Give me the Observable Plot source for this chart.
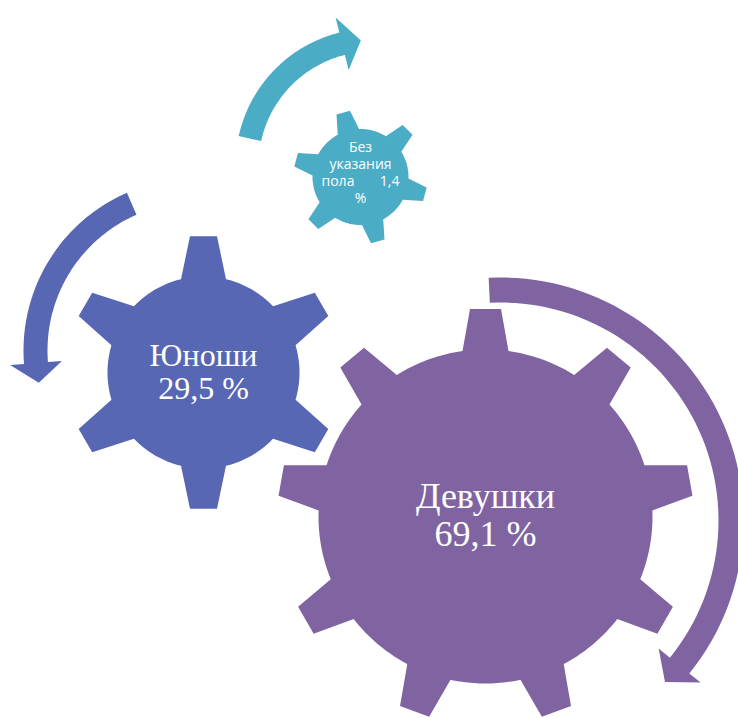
<!DOCTYPE html>
<html>
<head>
<meta charset="utf-8">
<script src="https://cdn.jsdelivr.net/npm/d3@7"></script>
<script src="https://cdn.jsdelivr.net/npm/@observablehq/plot@0.6"></script>
<style>
  html, body { margin: 0; padding: 0; background: #ffffff; }
  #chart svg { display: block; }
</style>
</head>
<body>
<div id="chart"></div>
<script>
// ---- data ----
const categories = ["Девушки", "Юноши", "Без указания пола"];
const shares = [69.1, 29.5, 1.4];
const colors = ["#8064a2", "#5867b3", "#4bacc6"];

// ---- layout (diagram geometry, not data) ----
const gearLayout = [
  {cx: 485, cy: 516, R: 208, r: 167, teeth: 9, rot: 90,  tipW: 31, baseW: 46},
  {cx: 203, cy: 372, R: 137, r: 96,  teeth: 6, rot: 90,  tipW: 27, baseW: 45},
  {cx: 360, cy: 176.5, R: 67, r: 48, teeth: 6, rot: 105, tipW: 14, baseW: 22}
];
const arrowLayout = [
  {cx: 500, cy: 520, rOut: 243, rIn: 218, a0: 267.2, a1: 399, dir: 1,  headW: 54, headL: 22},
  {cx: 195, cy: 350, rOut: 172, rIn: 148, a0: 246.5, a1: 175.5, dir: -1, headW: 52, headL: 20},
  {cx: 372, cy: 165, rOut: 137, rIn: 114, a0: 192.4, a1: 256, dir: 1,  headW: 54, headL: 19}
];
const labelStyle = [
  {fontSize: 36, lineHeight: 1.05, family: "Liberation Serif", dy: -1.5},
  {fontSize: 32, lineHeight: 1.03, family: "Liberation Serif", dy: -1},
  {fontSize: 14, lineHeight: 1.23, family: "Open Sans", dy: -5}
];

const rad = d => d * Math.PI / 180;
const fmt = v => v.toFixed(1).replace(".", ",");

function gearPoints(g, id) {
  const pts = [];
  const step = 2 * Math.PI / g.teeth;
  const bb = Math.asin(g.baseW / 2 / g.r);
  const bt = Math.asin(g.tipW / 2 / g.R);
  const P = (rr, a) => pts.push({id, x: g.cx + rr * Math.cos(a), y: g.cy - rr * Math.sin(a)});
  for (let j = 0; j < g.teeth; j++) {
    const phi = rad(g.rot) + j * step;
    P(g.r, phi - bb); P(g.R, phi - bt); P(g.R, phi + bt); P(g.r, phi + bb);
    const s = phi + bb, e = phi + step - bb, m = 24;
    for (let k = 1; k < m; k++) P(g.r, s + (e - s) * k / m);
  }
  return pts;
}

function arrowPoints(a, id) {
  const pts = [];
  const P = (rr, deg) => pts.push({id, x: a.cx + rr * Math.cos(rad(deg)), y: a.cy + rr * Math.sin(rad(deg))});
  const m = 60, rMid = (a.rOut + a.rIn) / 2;
  for (let k = 0; k <= m; k++) P(a.rOut, a.a0 + (a.a1 - a.a0) * k / m);
  const tipDeg = a.a1 + a.dir * (a.headL / rMid) * 180 / Math.PI;
  P(rMid + a.headW / 2, a.a1);
  P(rMid, tipDeg);
  P(rMid - a.headW / 2, a.a1);
  for (let k = m; k >= 0; k--) P(a.rIn, a.a0 + (a.a1 - a.a0) * k / m);
  return pts;
}

function labelText(i) {
  const v = fmt(shares[i]);
  if (i === 2) {
    const w = categories[i].split(" ");
    return [w[0], w[1], w[2] + "\u00a0".repeat(7) + v, "%"].join("\n");
  }
  return categories[i] + "\n" + v + " %";
}

const marks = [];
// draw from smallest to largest so the big gear sits on top
for (let i = categories.length - 1; i >= 0; i--) {
  marks.push(Plot.line(arrowPoints(arrowLayout[i], i), {x: "x", y: "y", fill: colors[i], stroke: "none", curve: "linear-closed"}));
  marks.push(Plot.line(gearPoints(gearLayout[i], i), {x: "x", y: "y", fill: colors[i], stroke: "none", curve: "linear-closed"}));
}
categories.forEach((c, i) => {
  const st = labelStyle[i];
  marks.push(Plot.text([{x: gearLayout[i].cx, y: gearLayout[i].cy + st.dy, t: labelText(i)}], {
    x: "x", y: "y", text: "t", fill: "white",
    fontSize: st.fontSize, fontFamily: st.family, lineHeight: st.lineHeight,
    textAnchor: "middle", lineAnchor: "middle"
  }));
});

const chart = Plot.plot({
  width: 738, height: 718, margin: 0,
  x: {domain: [0, 738], range: [0, 738], axis: null},
  y: {domain: [0, 718], range: [0, 718], axis: null},
  style: {background: "white"},
  marks
});
document.getElementById("chart").appendChild(chart);
</script>
</body>
</html>
